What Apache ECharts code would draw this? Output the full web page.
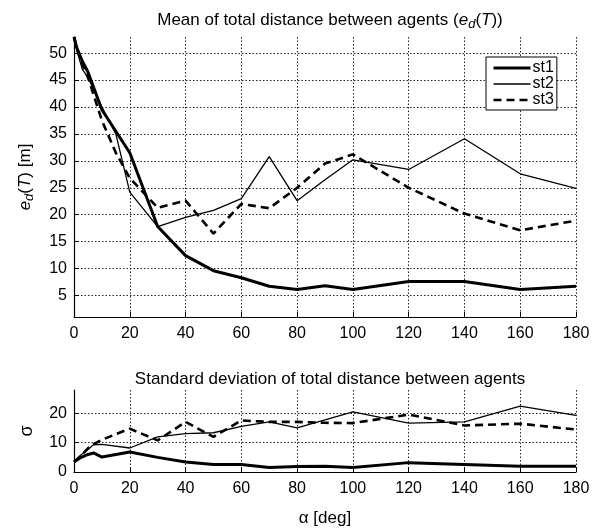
<!DOCTYPE html>
<html><head><meta charset="utf-8">
<script src="https://cdn.jsdelivr.net/npm/echarts@6/dist/echarts.min.js"></script>
<style>html,body{margin:0;padding:0;background:#fff}#c{width:604px;height:531px}</style>
</head><body><div id="c"></div>
<script>
// ---- data ----
const alphaTop = [0, 1, 3, 5, 10, 15, 20, 30, 40, 50, 60, 70, 80, 90, 100, 120, 140, 160, 180];
const meanSt1 = [53, 51, 48.5, 46.5, 39.5, 35.5, 31.5, 17.8, 12.4, 9.6, 8.3, 6.7, 6.1, 6.8, 6.1, 7.6, 7.6, 6.1, 6.7];
const meanSt2 = [53, 50.5, 47, 45.5, 40, 35, 24.2, 17.8, 19.5, 20.8, 23.0, 30.8, 22.6, 26.5, 30.2, 28.4, 34.1, 27.6, 24.9];
const meanSt3 = [53, 51, 48, 45.5, 37.5, 31.5, 26.8, 21.3, 22.6, 16.5, 22.0, 21.2, 25.0, 29.5, 31.2, 25.0, 20.2, 17.1, 18.9];

const alphaBottom = [0, 2, 5, 7, 10, 20, 30, 40, 50, 60, 70, 80, 90, 100, 120, 140, 160, 180];
const stdSt1 = [3.4, 4.7, 6.0, 6.5, 5.1, 6.8, 5.0, 3.4, 2.6, 2.6, 1.5, 1.9, 2.0, 1.5, 3.2, 2.6, 2.0, 2.0];
const stdSt2 = [3.5, 5.5, 7.7, 9.3, 9.4, 8.2, 12.0, 13.1, 13.4, 15.6, 17.1, 15.1, 17.8, 20.5, 16.7, 17.1, 22.5, 19.3];
const stdSt3 = [3.5, 5.0, 8.1, 9.5, 11.0, 14.8, 10.8, 17.1, 12.0, 17.6, 17.1, 17.1, 16.8, 16.7, 19.6, 15.9, 16.5, 14.5];

const topYTicks = [5, 10, 15, 20, 25, 30, 35, 40, 45, 50];
const bottomYTicks = [0, 10, 20];
const seriesNames = ['st1', 'st2', 'st3'];

// ---- chart ----
const FONT = 'Liberation Sans, Arial, sans-serif';
const zip = (xs, ys) => xs.map((x, i) => [x, ys[i]]);
const styles = [
  { width: 3, type: 'solid' },
  { width: 1.3, type: 'solid' },
  { width: 2.6, type: [8, 5] }
];
const gridLine = { show: true, lineStyle: { color: '#222', type: [1.5, 2], width: 1 } };
const axisLine = { show: true, lineStyle: { color: '#000', width: 1.2 } };
const tickLabel = { color: '#000', fontSize: 16, fontFamily: FONT };

function xAxis(gi, nameOn) {
  return {
    type: 'value', gridIndex: gi, min: 0, max: 180, interval: 20,
    axisLine: axisLine,
    axisTick: { show: true, inside: true, length: 5, lineStyle: { color: '#000' } },
    axisLabel: Object.assign({ margin: 9 }, tickLabel),
    splitLine: gridLine,
    name: nameOn ? 'α [deg]' : '',
    nameLocation: 'middle', nameGap: 38,
    nameTextStyle: { color: '#000', fontSize: 17, fontFamily: FONT }
  };
}

const option = {
  backgroundColor: '#fff',
  animation: false,
  textStyle: { fontFamily: FONT },
  title: [
    {
      text: 'Mean of total distance between agents ({i|e}{sub|d}({i|T}))',
      left: 325, top: 4, textAlign: 'center',
      textStyle: {
        fontSize: 17, fontWeight: 'normal', color: '#000', fontFamily: FONT, lineHeight: 22,
        rich: {
          i: { fontSize: 17, fontStyle: 'italic', color: '#000', fontFamily: FONT, lineHeight: 22 },
          sub: { fontSize: 13, fontStyle: 'italic', color: '#000', fontFamily: FONT, lineHeight: 12, verticalAlign: 'bottom' }
        }
      }
    },
    {
      text: 'Standard deviation of total distance between agents',
      left: 325, top: 366, textAlign: 'center',
      textStyle: { fontSize: 17, fontWeight: 'normal', color: '#000', fontFamily: FONT }
    }
  ],
  legend: {
    data: seriesNames.map((n, i) => ({ name: n, lineStyle: Object.assign({ color: '#000' }, styles[i]) })),
    orient: 'vertical', left: 486, top: 57,
    backgroundColor: '#fff', borderColor: '#000', borderWidth: 1,
    padding: [3, 3, 2, 6], itemWidth: 37, itemHeight: 12, itemGap: 0,
    itemStyle: { opacity: 0 },
    textStyle: { color: '#000', fontSize: 16, fontFamily: FONT, lineHeight: 14, padding: [0, 0, 0, -3] }
  },
  grid: [
    { left: 74, right: 28, top: 37, height: 280 },
    { left: 74, right: 28, top: 390, height: 82 }
  ],
  xAxis: [xAxis(0, false), xAxis(1, true)],
  yAxis: [
    {
      type: 'value', gridIndex: 0, min: 1, max: 53,
      axisLine: axisLine,
      axisTick: { show: true, inside: true, length: 5, customValues: topYTicks, lineStyle: { color: '#000' } },
      axisLabel: Object.assign({ margin: 7, customValues: topYTicks }, tickLabel),
      splitLine: gridLine,
      name: '{i|e}{sub|d}({i|T}) [m]',
      nameLocation: 'middle', nameRotate: 90, nameGap: 38,
      nameTextStyle: {
        fontSize: 17, color: '#000', fontFamily: FONT, lineHeight: 22,
        rich: {
          i: { fontSize: 17, fontStyle: 'italic', color: '#000', fontFamily: FONT, lineHeight: 22 },
          sub: { fontSize: 13, fontStyle: 'italic', color: '#000', fontFamily: FONT, lineHeight: 12, verticalAlign: 'bottom' }
        }
      }
    },
    {
      type: 'value', gridIndex: 1, min: 0, max: 28,
      axisLine: axisLine,
      axisTick: { show: true, inside: true, length: 5, customValues: bottomYTicks, lineStyle: { color: '#000' } },
      axisLabel: Object.assign({ margin: 7, customValues: bottomYTicks }, tickLabel),
      splitLine: gridLine,
      name: 'σ', nameLocation: 'middle', nameRotate: 90, nameGap: 38,
      nameTextStyle: { fontSize: 18, color: '#000', fontFamily: FONT }
    }
  ],
  series: []
};

const topData = [meanSt1, meanSt2, meanSt3];
const botData = [stdSt1, stdSt2, stdSt3];
seriesNames.forEach((n, i) => {
  option.series.push({
    name: n, type: 'line', xAxisIndex: 0, yAxisIndex: 0, data: zip(alphaTop, topData[i]),
    symbol: 'none', lineStyle: Object.assign({ color: '#000' }, styles[i]), itemStyle: { color: '#000' }
  });
});
seriesNames.forEach((n, i) => {
  option.series.push({
    name: n, type: 'line', xAxisIndex: 1, yAxisIndex: 1, data: zip(alphaBottom, botData[i]),
    symbol: 'none', lineStyle: Object.assign({ color: '#000' }, styles[i]), itemStyle: { color: '#000' }
  });
});

const chart = echarts.init(document.getElementById('c'), null, { renderer: 'canvas' });
chart.setOption(option);
</script>
</body></html>
